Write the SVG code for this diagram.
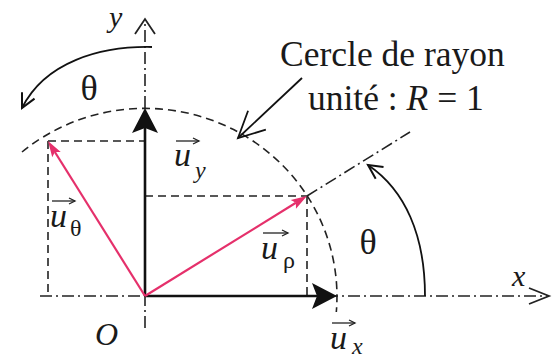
<svg xmlns="http://www.w3.org/2000/svg" width="556" height="360" viewBox="0 0 556 360">
<style>
text{font-family:"Liberation Serif","Times New Roman",serif;fill:#1a1a1a}
.it{font-style:italic}
.cap{font-size:35.5px}
.sym{font-size:34px}
.sub{font-size:24px}
.theta{font-size:36px}
.dash{fill:none;stroke:#222;stroke-width:1.6;stroke-dasharray:8 5}
.dd{fill:none;stroke:#222;stroke-width:1.6;stroke-dasharray:12 4 2 4}
.thick{fill:none;stroke:#111;stroke-width:2.6}
.pink{fill:none;stroke:#e5306b;stroke-width:2.2}
.thin{fill:none;stroke:#111;stroke-width:1.8}
.vec{fill:none;stroke:#222;stroke-width:1.3}
</style>
<defs>
<marker id="stealth" markerUnits="userSpaceOnUse" markerWidth="40" markerHeight="40" refX="0" refY="0" viewBox="-10 -20 40 40" orient="auto">
<path d="M20,0 L-5,-13 L0,0 L-5,13 Z" fill="#111"/>
</marker>
<marker id="pinkhead" markerUnits="userSpaceOnUse" markerWidth="30" markerHeight="30" refX="0" refY="0" viewBox="-10 -15 30 30" orient="auto">
<path d="M13,0 L-3,-5 L0,0 L-3,5 Z" fill="#e5306b"/>
</marker>
<marker id="vAxisY" markerUnits="userSpaceOnUse" markerWidth="40" markerHeight="40" refX="0" refY="0" viewBox="-30 -20 40 40" orient="auto">
<path d="M-15,-10 L0,0 L-15,10" fill="none" stroke="#222" stroke-width="1.8"/>
</marker>
<marker id="vAxisX" markerUnits="userSpaceOnUse" markerWidth="40" markerHeight="40" refX="0" refY="0" viewBox="-30 -20 40 40" orient="auto">
<path d="M-20,-8 L0,0 L-20,8" fill="none" stroke="#222" stroke-width="1.8"/>
</marker>
<marker id="vLeader" markerUnits="userSpaceOnUse" markerWidth="60" markerHeight="60" refX="0" refY="0" viewBox="-40 -30 60 60" orient="auto">
<path d="M-26,-13 L0,0 L-26,13" fill="none" stroke="#111" stroke-width="1.8"/>
</marker>
<marker id="vArc" markerUnits="userSpaceOnUse" markerWidth="40" markerHeight="40" refX="0" refY="0" viewBox="-30 -20 40 40" orient="auto">
<path d="M-14,-7 L0,0 L-14,7" fill="none" stroke="#111" stroke-width="2"/>
</marker>
<marker id="vSmall" markerUnits="userSpaceOnUse" markerWidth="20" markerHeight="20" refX="0" refY="0" viewBox="-10 -10 20 20" orient="auto">
<path d="M-6,-3 L0,0 L-6,3" fill="none" stroke="#222" stroke-width="1.3"/>
</marker>
</defs>

<g id="axes">
<line class="dd" x1="40" y1="296" x2="549" y2="296" marker-end="url(#vAxisX)"/>
<line class="dd" x1="145" y1="328" x2="145" y2="19" marker-end="url(#vAxisY)"/>
<text class="it" x="109" y="27" font-size="30">y</text>
<text class="it" x="512" y="286" font-size="30">x</text>
<text class="it" x="95" y="345" font-size="32">O</text>
</g>

<g id="unit-circle">
<path class="dash" d="M22,152 A192,188 0 0 1 336.3,312"/>
</g>

<g id="projections">
<line class="dash" x1="48" y1="141" x2="145" y2="141"/>
<line class="dash" x1="48" y1="141" x2="48" y2="296"/>
<line class="dash" x1="145" y1="196" x2="307" y2="196"/>
<line class="dash" x1="307" y1="196" x2="307" y2="296"/>
</g>

<g id="radial-line">
<line class="dd" x1="307" y1="196" x2="410" y2="132"/>
</g>

<g id="connectors">
<line class="thick" x1="145" y1="296" x2="145" y2="128" marker-end="url(#stealth)"/>
<line class="thick" x1="145" y1="296" x2="317" y2="296" marker-end="url(#stealth)"/>
<line class="pink" x1="145" y1="296" x2="295.9" y2="202.8" marker-end="url(#pinkhead)"/>
<line class="pink" x1="145" y1="296" x2="54.9" y2="152" marker-end="url(#pinkhead)"/>
<path class="thin" d="M152,47 C100,46 45,62 22,108" marker-end="url(#vArc)"/>
<path class="thin" d="M425,296 C425,235 405,190 368,165" marker-end="url(#vArc)"/>
<line class="thin" x1="302" y1="78" x2="238" y2="138" marker-end="url(#vLeader)"/>
</g>

<g id="label-circle">
<text class="cap" x="280" y="66">Cercle de rayon</text>
<text class="cap" x="308" y="110">unité : <tspan class="it">R</tspan> = 1</text>
</g>

<g id="label-theta-left">
<text class="theta" x="89" y="100" text-anchor="middle">θ</text>
</g>
<g id="label-theta-right">
<text class="theta" x="368" y="254" text-anchor="middle">θ</text>
</g>

<g id="label-uy">
<line class="vec" x1="176" y1="141" x2="199" y2="141" marker-end="url(#vSmall)"/>
<text class="it sym" x="174" y="166">u</text>
<text class="it sub" x="195" y="178">y</text>
</g>
<g id="label-utheta">
<line class="vec" x1="52" y1="201" x2="75" y2="201" marker-end="url(#vSmall)"/>
<text class="it sym" x="50" y="227">u</text>
<text class="sub" x="70" y="236">θ</text>
</g>
<g id="label-urho">
<line class="vec" x1="263" y1="233" x2="288" y2="233" marker-end="url(#vSmall)"/>
<text class="it sym" x="261" y="259">u</text>
<text class="sub" x="283" y="268">ρ</text>
</g>
<g id="label-ux">
<line class="vec" x1="332" y1="323" x2="355" y2="323" marker-end="url(#vSmall)"/>
<text class="it sym" x="330" y="349">u</text>
<text class="it sub" x="352" y="354">x</text>
</g>
</svg>
